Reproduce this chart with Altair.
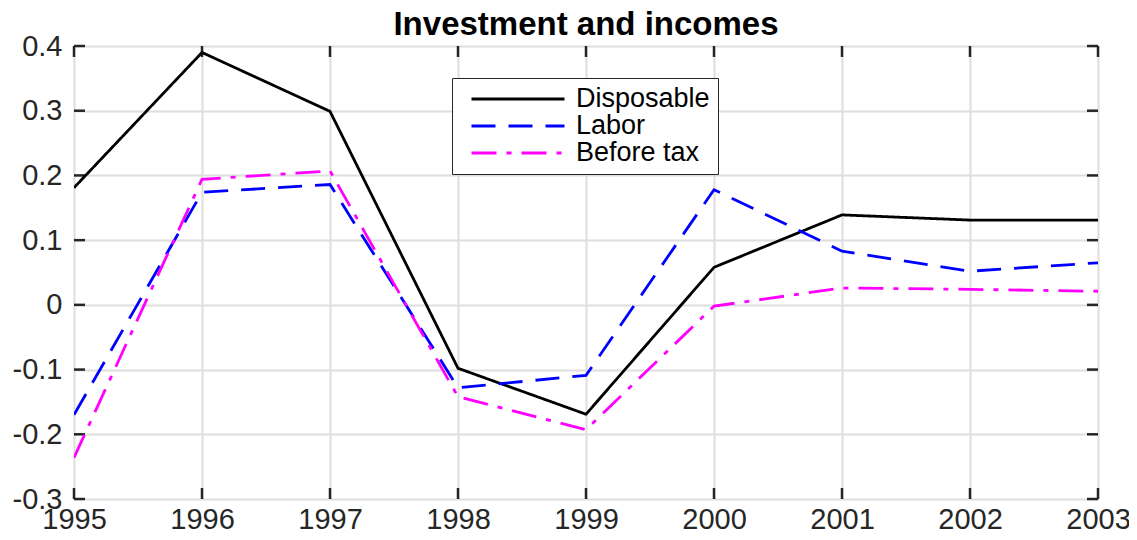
import altair as alt
import pandas as pd

years = [1995, 1996, 1997, 1998, 1999, 2000, 2001, 2002, 2003]
disposable = [0.181, 0.390, 0.299, -0.098, -0.169, 0.058, 0.139, 0.131, 0.131]
labor = [-0.170, 0.174, 0.186, -0.128, -0.109, 0.178, 0.083, 0.052, 0.065]
before_tax = [-0.236, 0.194, 0.207, -0.142, -0.193, -0.002, 0.026, 0.024, 0.021]
series_names = ["Disposable", "Labor", "Before tax"]
series_colors = ["#000000", "#0000ff", "#ff00ff"]
series_dashes = [[1, 0], [24, 13], [25, 10, 5, 10]]
y_ticks = [-0.3, -0.2, -0.1, 0.0, 0.1, 0.2, 0.3, 0.4]

rows = []
for name, vals in zip(series_names, [disposable, labor, before_tax]):
    for yr, v in zip(years, vals):
        rows.append({"year": yr, "value": v, "series": name})
df = pd.DataFrame(rows)

W, H = 1024, 453
FONT = "Liberation Sans"
TXT = "#262626"

x_scale = alt.Scale(domain=[1995, 2003], nice=False, zero=False)
y_scale = alt.Scale(domain=[-0.3, 0.4], nice=False, zero=False)

lines = alt.Chart(df).mark_line(strokeWidth=2.8, clip=True).encode(
    x=alt.X("year:Q", scale=x_scale, title=None,
            axis=alt.Axis(values=years, format="d", labelFontSize=29, labelFont=FONT,
                          labelColor=TXT, ticks=False, domain=False, labelPadding=6,
                          grid=True, gridColor="#dedede", gridWidth=2, labelFlush=False)),
    y=alt.Y("value:Q", scale=y_scale, title=None,
            axis=alt.Axis(values=y_ticks, labelFontSize=29, labelFont=FONT, labelColor=TXT,
                          labelExpr="replace(format(datum.value, '.1~f'), '\u2212', '-')",
                          ticks=False, domain=False, labelPadding=12,
                          grid=True, gridColor="#dedede", gridWidth=2)),
    color=alt.Color("series:N", scale=alt.Scale(domain=series_names, range=series_colors),
                    sort=series_names,
                    legend=alt.Legend(title=None, orient="none", legendX=378, legendY=32,
                                      symbolType="stroke", symbolSize=8650, symbolStrokeWidth=2.8,
                                      symbolOffset=10, clipHeight=26,
                                      labelFontSize=27, labelFont=FONT, labelColor="#000000",
                                      labelOffset=10, rowPadding=0, padding=8,
                                      strokeColor="#262626", fillColor="#ffffff",
                                      cornerRadius=0)),
    strokeDash=alt.StrokeDash("series:N", scale=alt.Scale(domain=series_names, range=series_dashes),
                              sort=series_names, legend=None),
    order=alt.Order("year:Q"),
)

tick_y = pd.DataFrame({"v": y_ticks})
tick_x = pd.DataFrame({"yr": years})
tcol = "#262626"
left_t = alt.Chart(tick_y).mark_rule(color=tcol, strokeWidth=2.5).encode(
    y=alt.Y("v:Q", scale=y_scale), x=alt.value(0), x2=alt.value(11))
right_t = alt.Chart(tick_y).mark_rule(color=tcol, strokeWidth=2.5).encode(
    y=alt.Y("v:Q", scale=y_scale), x=alt.value(W - 11), x2=alt.value(W))
bot_t = alt.Chart(tick_x).mark_rule(color=tcol, strokeWidth=2.5).encode(
    x=alt.X("yr:Q", scale=x_scale), y=alt.value(H), y2=alt.value(H - 11))
top_t = alt.Chart(tick_x).mark_rule(color=tcol, strokeWidth=2.5).encode(
    x=alt.X("yr:Q", scale=x_scale), y=alt.value(0), y2=alt.value(11))

chart = alt.layer(left_t, right_t, bot_t, top_t, lines).properties(
    width=W, height=H,
    title=alt.Title("Investment and incomes", fontSize=33, font=FONT, fontWeight="bold",
                    color="#000000", anchor="middle", offset=-10),
    autosize=alt.AutoSizeParams(type="none"),
    padding={"left": 66, "top": 38, "right": 31, "bottom": 33},
).configure_view(stroke="#262626", strokeWidth=2.5).configure_legend(
    strokeWidth=2
).configure(background="white")

chart.save("out.html", embed_options={"renderer": "svg", "actions": False})
